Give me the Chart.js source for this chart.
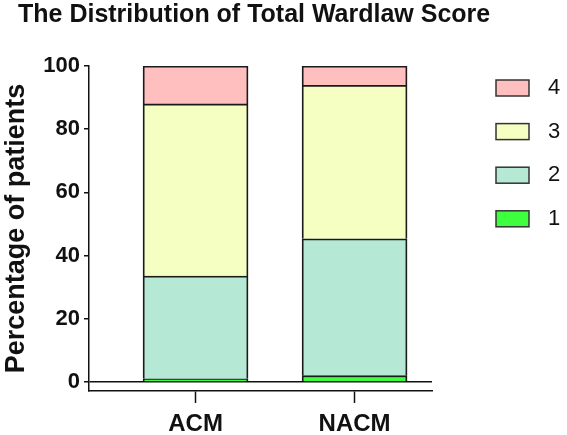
<!DOCTYPE html>
<html>
<head>
<meta charset="utf-8">
<script src="https://cdn.jsdelivr.net/npm/chart.js@4"></script>
<style>
    html, body { margin: 0; padding: 0; background: #fff; }
</style>
</head>
<body>
<canvas id="wardlawGraphe" width="567" height="435"></canvas>
<script>
// Données (pourcentage de patients)
const categories = ["ACM", "NACM"];
const scoreLabels = ["1", "2", "3", "4"];
const score1 = [1.0, 2.0];
const score2 = [32.5, 43.3];
const score3 = [54.5, 48.6];
const score4 = [12.0, 6.1];
const yTicks = [0, 20, 40, 60, 80, 100];

Chart.defaults.font.family = "'Liberation Sans', Arial, sans-serif";
Chart.defaults.color = "#111";

// Légende dessinée à droite, à la manière de Prism
const legendeDroite = {
    id: "legendeDroite",
    afterDraw(chart) {
        const ctx = chart.ctx;
        const items = chart.data.datasets.slice().reverse();
        ctx.save();
        items.forEach((ds, i) => {
            const y = 80 + i * 43.6;
            ctx.fillStyle = ds.backgroundColor;
            ctx.fillRect(496, y, 33, 16);
            ctx.lineWidth = 1.5;
            ctx.strokeStyle = "#333";
            ctx.strokeRect(496, y, 33, 16);
            ctx.fillStyle = "#111";
            ctx.font = "22px 'Liberation Sans', Arial, sans-serif";
            ctx.textBaseline = "middle";
            ctx.fillText(ds.label, 548, y + 8);
        });
        ctx.restore();
    }
};

function initWardlawChart(canvasId) {
    const fillColors = ["#3dff3d", "#b5e8d5", "#f5ffc2", "#ffbfbf"];
    const series = [score1, score2, score3, score4];

    const datasets = series.map((serie, k) => ({
        label: scoreLabels[k],
        data: serie.map((v, i) => ({ x: i + 1, y: v })),
        backgroundColor: fillColors[k],
        borderColor: "#1a1a1a",
        borderWidth: 1.8,
        borderSkipped: "start", // un seul trait entre deux segments
        barThickness: 105
    }));

    const ctx = document.getElementById(canvasId).getContext("2d");
    return new Chart(ctx, {
        type: "bar",
        data: { datasets: datasets },
        plugins: [legendeDroite],
        options: {
            responsive: false,
            animation: false,
            layout: { padding: { left: 18, right: 70, top: 0, bottom: 0 } },
            plugins: {
                legend: { display: false },
                tooltip: { enabled: false },
                title: {
                    display: true,
                    text: "The Distribution of Total Wardlaw Score",
                    align: "start",
                    color: "#111",
                    font: { size: 25, weight: "bold" },
                    padding: { top: 0, bottom: 36 }
                }
            },
            scales: {
                x: {
                    type: "linear",
                    stacked: true,
                    offset: false,
                    min: 0.33,
                    max: 2.487,
                    afterBuildTicks: s => { s.ticks = categories.map((c, i) => ({ value: i + 1 })); },
                    ticks: {
                        callback: (v, i) => categories[i],
                        font: { size: 24, weight: "bold" },
                        color: "#111",
                        padding: 7,
                        maxRotation: 0
                    },
                    grid: { display: true, offset: false, drawOnChartArea: false, drawTicks: true, tickLength: 12, tickColor: "#111", tickWidth: 1.5 },
                    border: { color: "#111", width: 1.5 },
                    afterFit: s => { s.height = 44; }
                },
                y: {
                    stacked: true,
                    min: -2.85,
                    max: 100,
                    afterBuildTicks: s => { s.ticks = yTicks.map(v => ({ value: v })); },
                    ticks: { font: { size: 22, weight: "bold" }, color: "#111", padding: 4 },
                    grid: {
                        color: c => (c.tick && c.tick.value === 0) ? "#111" : "rgba(0,0,0,0)",
                        lineWidth: 1.5,
                        tickLength: 5,
                        tickColor: "#111",
                        tickWidth: 1.5
                    },
                    border: { color: "#111", width: 1.5 },
                    title: {
                        display: true,
                        text: "Percentage of patients",
                        color: "#111",
                        font: { size: 27, weight: "bold" },
                        padding: { top: -18, bottom: 0 }
                    },
                    afterFit: s => { s.width = 71; }
                },
                // marge vide à droite, réservée pour la légende
                marge: {
                    type: "linear",
                    position: "right",
                    display: true,
                    grid: { display: false },
                    ticks: { display: false },
                    border: { display: false },
                    afterFit: s => { s.width = 65; }
                }
            }
        }
    });
}

window.onload = function() {
    initWardlawChart("wardlawGraphe");
};
</script>
</body>
</html>
